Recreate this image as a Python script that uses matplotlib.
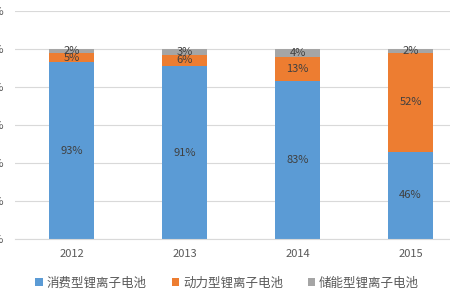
import matplotlib.pyplot as plt
import numpy as np

plt.rcParams['font.family'] = ['Noto Sans CJK SC', 'DejaVu Sans']

years = ['2012', '2013', '2014', '2015']
consumer = [93, 91, 83, 46]
power = [5, 6, 13, 52]
storage = [2, 3, 4, 2]
names = ['消费型锂离子电池', '动力型锂离子电池', '储能型锂离子电池']
colors = ['#5B9BD5', '#ED7D31', '#A5A5A5']
y_ticks = [0, 20, 40, 60, 80, 100, 120]

fig = plt.figure(figsize=(4.5, 3), dpi=100)
ax = fig.add_axes([15 / 450, 1 - 239 / 300, 452 / 450, 228 / 300])

x = np.arange(len(years))
bottom = np.zeros(len(years))
for vals, name, col in zip([consumer, power, storage], names, colors):
    ax.bar(x, vals, width=0.4, bottom=bottom, color=col, label=name)
    for xi, b, v in zip(x, bottom, vals):
        ax.text(xi, b + v / 2, f'{v}%', ha='center', va='center',
                fontsize=8, color='#404040')
    bottom += np.array(vals)

ax.set_xlim(-0.5, 3.5)
ax.set_ylim(0, 120)
ax.set_yticks(y_ticks)
ax.set_yticklabels([f'{t}%' for t in y_ticks])
ax.set_xticks(x)
ax.set_xticklabels(years)
ax.tick_params(length=0, labelsize=8, labelcolor='#595959')
ax.tick_params(axis='y', pad=8)
ax.tick_params(axis='x', pad=7)
ax.yaxis.grid(True, color='#D9D9D9', linewidth=0.8)
ax.set_axisbelow(True)
for s in ['top', 'right', 'left']:
    ax.spines[s].set_visible(False)
ax.spines['bottom'].set_color('#D9D9D9')

fig.legend(loc='center', bbox_to_anchor=(0.505, 1 - 283 / 300), ncol=3,
           frameon=False, fontsize=9, handlelength=0.6, handleheight=0.6,
           handletextpad=0.3, columnspacing=2.0, labelcolor='#595959')

fig.savefig('out.png', dpi=100)
